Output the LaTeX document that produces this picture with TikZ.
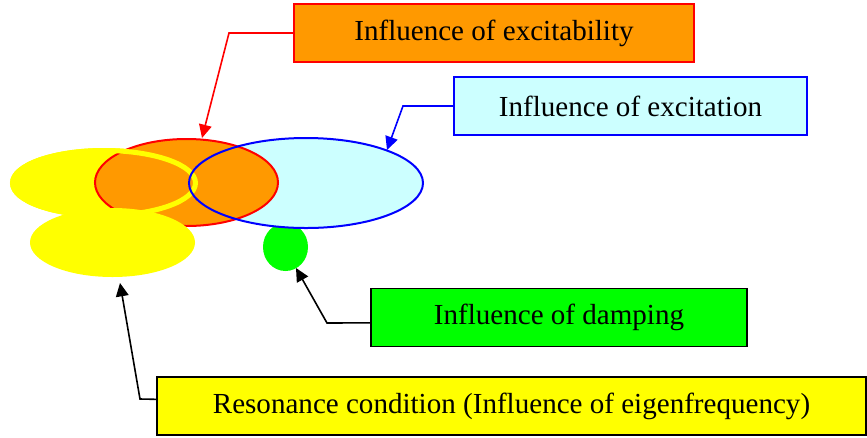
\documentclass[tikz,border=0pt]{standalone}
\usepackage{fontspec}
\setmainfont{Liberation Serif}
\usetikzlibrary{arrows.meta}
\definecolor{exorange}{RGB}{255,153,0}
\definecolor{excyan}{RGB}{204,255,255}
\definecolor{exgreen}{RGB}{0,255,0}
\definecolor{exyellow}{RGB}{255,255,0}
\begin{document}
\begin{tikzpicture}
[x=0.75pt, y=-0.75pt, >={Triangle[length=10pt,width=9.5pt]}]
\tikzstyle{every node}=[font=\fontsize{21.8}{26}\selectfont, inner sep=0pt, minimum height=43.5pt]
\tikzstyle{infobox}=[draw, line width=0.9pt]
\tikzstyle{pointer}=[->, line width=1.2pt]
\useasboundingbox (0,0) rectangle (867,437);
% overlapping regions
\fill[exgreen] (285.5,247) ellipse [x radius=22.5, y radius=24];
\fill[excyan] (306,183) ellipse [x radius=117, y radius=45];
\filldraw[exyellow, line width=3.75pt] (104,183) ellipse [x radius=91.5, y radius=32.5];
\filldraw[fill=exorange, draw=red, line width=1.5pt] (186.5,182.5) ellipse [x radius=91.5, y radius=43.5];
\draw[exyellow, line width=3.75pt] (104,183) ellipse [x radius=91.5, y radius=32.5];
\fill[exyellow] (112.5,242.5) ellipse [x radius=82.5, y radius=34.5];
\draw[blue, line width=1.5pt] (306,183) ellipse [x radius=117, y radius=45];
% labels
\node[infobox, draw=red, fill=exorange, minimum width=300pt] (excitability) at (494,33) {Influence of excitability};
\node[infobox, draw=blue, fill=excyan, minimum width=264.75pt] (excitation) at (630.5,106) {Influence of excitation};
\node[infobox, fill=exgreen, minimum width=282pt] (damping) at (559,317.5) {Influence of damping};
\node[infobox, fill=exyellow, minimum width=531.75pt] (resonance) at (511.5,406) {Resonance condition (Influence of eigenfrequency)};
% arrow ends
\coordinate (excitability tip) at (202,138);
\coordinate (excitation tip) at (387,150);
\coordinate (damping tip) at (296,268);
\coordinate (resonance tip) at (120,283);
\draw[pointer, red] (excitability.west) -- (229,33) -- (excitability tip);
\draw[pointer, blue] (excitation.west) -- (403,106) -- (excitation tip);
\draw[pointer] ([yshift=-4pt]damping.west) -- (327,323) -- (damping tip);
\draw[pointer] ([yshift=5pt]resonance.west) -- (140,399) -- (resonance tip);
\end{tikzpicture}
\end{document}
